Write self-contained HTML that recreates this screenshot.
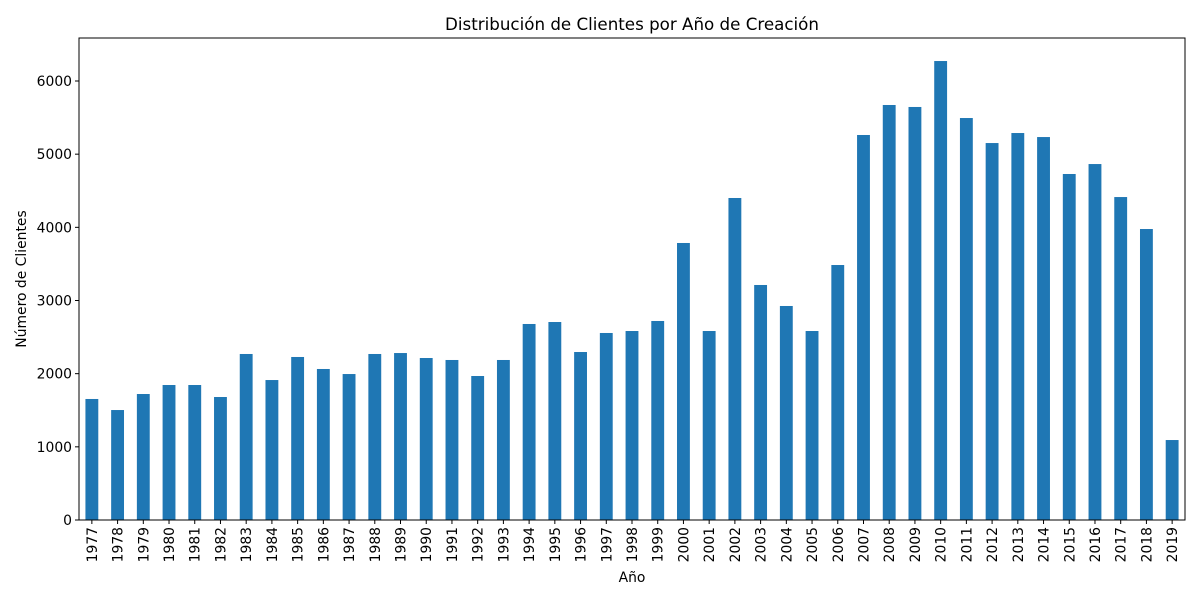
<!DOCTYPE html>
<html><head><meta charset="utf-8"><style>
html,body{margin:0;padding:0;background:#fff;}
svg{display:block;font-family:"DejaVu Sans","Liberation Sans",sans-serif;}
</style></head><body>
<svg id="chart" width="1200" height="600"></svg>
<script>
const categories = [1977,1978,1979,1980,1981,1982,1983,1984,1985,1986,1987,1988,1989,1990,1991,1992,1993,1994,1995,1996,1997,1998,1999,2000,2001,2002,2003,2004,2005,2006,2007,2008,2009,2010,2011,2012,2013,2014,2015,2016,2017,2018,2019];
const values = [1654,1503,1722,1845,1845,1681,2269,1913,2228,2064,1995,2269,2282,2214,2187,1968,2187,2679,2706,2296,2556,2583,2720,3786,2583,4401,3212,2925,2583,3485,5262,5672,5645,6273,5494,5152,5289,5234,4729,4865,4414,3977,1093];
const yTicks = [0,1000,2000,3000,4000,5000,6000];

const NS="http://www.w3.org/2000/svg";
const svg=document.getElementById('chart');
const L=79,R=1185,T=38,B=520;
const slot=(R-L)/categories.length;
const x=i=>L+slot*(i+0.5);
const y=v=>B-v*(B-81)/6000;
function mk(tag,attrs,text){const e=document.createElementNS(NS,tag);for(const k in attrs)e.setAttribute(k,attrs[k]);if(text!==undefined)e.textContent=text;svg.appendChild(e);return e;}

values.forEach((v,i)=>{
  const r=mk('rect',{x:x(i)-slot/4,y:y(v),width:slot/2,height:B-y(v),fill:'#1f77b4'});
  
  
});
const frame=mk('rect',{x:L,y:T,width:R-L,height:B-T,fill:'none',stroke:'#000','stroke-width':1});



yTicks.forEach(t=>{
  mk('line',{x1:L-4,x2:L,y1:y(t),y2:y(t),stroke:'#000'});
  const tx=mk('text',{x:L-7,y:y(t)+5,'text-anchor':'end','font-size':13.9},t);
  
  
});
categories.forEach((c,i)=>{
  mk('line',{x1:x(i),x2:x(i),y1:B,y2:B+4,stroke:'#000'});
  const tx=mk('text',{x:0,y:0,'text-anchor':'end','font-size':13.9,transform:`translate(${x(i)+5},${B+7}) rotate(-90)`},c);
  
  
});
const title=mk('text',{x:(L+R)/2,y:30,'text-anchor':'middle','font-size':16.7},'Distribución de Clientes por Año de Creación');


const xt=mk('text',{x:(L+R)/2,y:582,'text-anchor':'middle','font-size':13.9},'Año');


const yt=mk('text',{x:0,y:0,'text-anchor':'middle','font-size':13.9,transform:`translate(26,${(T+B)/2}) rotate(-90)`},'Número de Clientes');


</script>
</body></html>
